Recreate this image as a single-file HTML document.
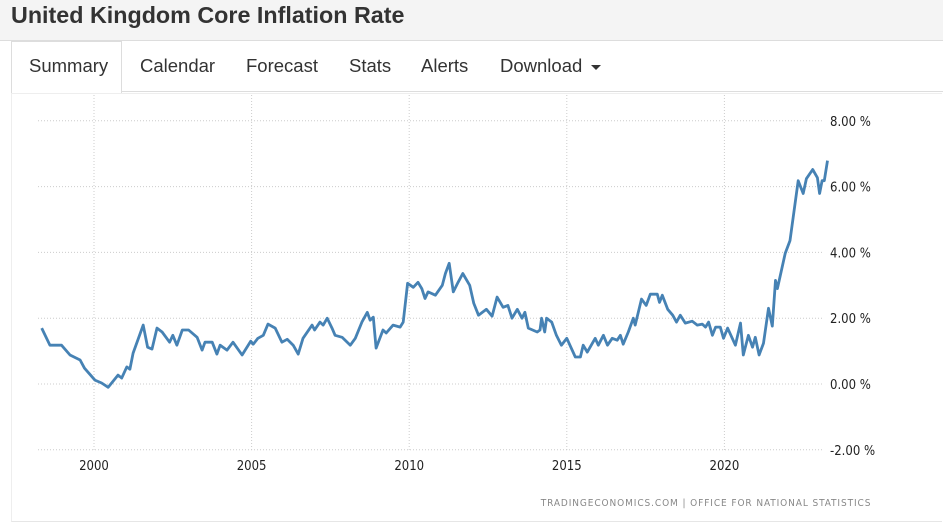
<!DOCTYPE html>
<html><head><meta charset="utf-8"><style>
body{margin:0;width:943px;height:528px;overflow:hidden;background:#fff;font-family:"Liberation Sans",sans-serif;position:relative}
#hdr{position:absolute;left:0;top:0;width:943px;height:40px;background:#f4f4f4;border-bottom:1px solid #ddd}
#title{position:absolute;left:11px;top:2px;font-size:23.3px;font-weight:bold;color:#333}
.tab{position:absolute;top:41px;height:50px;line-height:50px;font-size:18.5px;color:#333}
#tabline{position:absolute;left:121px;top:91px;width:822px;height:1px;background:#ddd}
#active{position:absolute;left:11px;top:41px;width:109px;height:51px;border:1px solid #ddd;border-bottom:none;background:#fff}
#panel{position:absolute;left:11px;top:93px;width:930px;height:427px;border-left:1px solid #eee;border-bottom:1px solid #e6e6e6;border-top:1px solid #eee}
</style></head><body>
<div id="hdr"><div id="title">United Kingdom Core Inflation Rate</div></div>
<div id="active"></div>
<div id="tabline"></div>
<div class="tab" style="left:29px">Summary</div>
<div class="tab" style="left:140px">Calendar</div>
<div class="tab" style="left:246px">Forecast</div>
<div class="tab" style="left:349px">Stats</div>
<div class="tab" style="left:421px">Alerts</div>
<div class="tab" style="left:500px">Download <span style="display:inline-block;width:0;height:0;border-left:5px solid transparent;border-right:5px solid transparent;border-top:5px solid #333;vertical-align:middle;margin-left:4px"></span></div>
<div id="panel"></div>
<svg id="chart" width="943" height="528" style="position:absolute;left:0;top:0"></svg>
<script>
const years=[1998.34,1998.6,1998.97,1999.24,1999.56,1999.7,2000.03,2000.24,2000.45,2000.76,2000.88,2001.04,2001.14,2001.24,2001.56,2001.7,2001.84,2002.0,2002.16,2002.4,2002.5,2002.63,2002.8,2003.0,2003.27,2003.43,2003.52,2003.75,2003.9,2004.0,2004.22,2004.41,2004.7,2004.97,2005.05,2005.2,2005.37,2005.52,2005.75,2005.96,2006.13,2006.32,2006.48,2006.63,2006.92,2007.0,2007.17,2007.27,2007.4,2007.55,2007.65,2007.87,2008.13,2008.29,2008.5,2008.67,2008.76,2008.86,2008.95,2009.17,2009.27,2009.49,2009.71,2009.81,2009.95,2010.13,2010.28,2010.4,2010.5,2010.6,2010.83,2011.05,2011.15,2011.27,2011.4,2011.55,2011.7,2011.92,2012.05,2012.2,2012.45,2012.63,2012.79,2012.98,2013.13,2013.26,2013.43,2013.58,2013.67,2013.78,2014.06,2014.15,2014.2,2014.3,2014.36,2014.52,2014.67,2014.83,2015.0,2015.27,2015.43,2015.52,2015.65,2015.9,2016.0,2016.16,2016.29,2016.44,2016.6,2016.7,2016.79,2016.95,2017.11,2017.17,2017.37,2017.52,2017.65,2017.87,2017.94,2018.03,2018.2,2018.36,2018.48,2018.6,2018.76,2018.98,2019.14,2019.3,2019.4,2019.5,2019.62,2019.72,2019.87,2019.97,2020.1,2020.35,2020.51,2020.6,2020.76,2020.89,2020.98,2021.1,2021.24,2021.4,2021.52,2021.62,2021.68,2021.93,2022.08,2022.34,2022.5,2022.6,2022.8,2022.95,2023.02,2023.1,2023.17,2023.27];
const values=[1.7,1.18,1.18,0.88,0.73,0.48,0.12,0.03,-0.1,0.27,0.18,0.52,0.45,0.94,1.79,1.12,1.06,1.7,1.58,1.27,1.48,1.18,1.64,1.64,1.42,1.03,1.27,1.27,0.91,1.18,1.03,1.27,0.88,1.3,1.21,1.39,1.48,1.82,1.7,1.27,1.36,1.18,0.91,1.39,1.79,1.64,1.88,1.79,2.0,1.7,1.48,1.42,1.18,1.39,1.88,2.18,1.94,2.03,1.09,1.64,1.55,1.79,1.73,1.88,3.06,2.94,3.09,2.9,2.6,2.8,2.7,3.0,3.36,3.67,2.8,3.09,3.36,3.0,2.45,2.09,2.27,2.06,2.64,2.33,2.39,2.0,2.27,2.0,2.18,1.7,1.58,1.64,2.0,1.58,2.0,1.88,1.48,1.18,1.39,0.82,0.82,1.18,0.97,1.39,1.18,1.48,1.18,1.39,1.33,1.48,1.21,1.58,2.0,1.79,2.58,2.39,2.73,2.73,2.48,2.7,2.27,2.09,1.88,2.09,1.85,1.91,1.79,1.82,1.73,1.88,1.48,1.73,1.73,1.39,1.7,1.18,1.85,0.88,1.48,1.12,1.42,0.88,1.24,2.3,1.76,3.15,2.9,3.97,4.36,6.18,5.79,6.24,6.52,6.27,5.79,6.18,6.18,6.79];
const yTicks=[8,6,4,2,0,-2];
const xTicks=[2000,2005,2010,2015,2020];
const svg=document.getElementById('chart');const NS='http://www.w3.org/2000/svg';
const X=y=>94+(y-2000)*31.52;
const Y=v=>384-v*32.9;
function mk(t,a){const e=document.createElementNS(NS,t);for(const k in a)e.setAttribute(k,a[k]);svg.appendChild(e);return e;}
yTicks.forEach(v=>{
 const l=mk('line',{x1:38,x2:823,y1:Y(v),y2:Y(v),stroke:'#ccc','stroke-dasharray':'1,2'});
 
 
 const t=mk('text',{x:830,y:Y(v)+5,'font-size':'13','fill':'#222','font-family':'DejaVu Sans Condensed,Liberation Sans,sans-serif'});
 t.textContent=v.toFixed(2)+' %';
 
 
});
xTicks.forEach(y=>{
 const l=mk('line',{x1:X(y),x2:X(y),y1:95,y2:452,stroke:'#ccc','stroke-dasharray':'1,2'});
 
 
 const t=mk('text',{x:X(y),y:470,'font-size':'13','fill':'#222','text-anchor':'middle','font-family':'DejaVu Sans Condensed,Liberation Sans,sans-serif'});
 t.textContent=y;
 
 
});
const d=years.map((y,i)=>(i?'L':'M')+X(y).toFixed(1)+','+Y(values[i]).toFixed(1)).join('');
const p=mk('path',{d:d,fill:'none',stroke:'#4682b4','stroke-width':'2.8','stroke-linejoin':'round'});


const s=mk('text',{x:706,y:506,'font-size':'10','fill':'#888','text-anchor':'middle','letter-spacing':'0.9','font-family':'DejaVu Sans Condensed,Liberation Sans,sans-serif'});
s.textContent='TRADINGECONOMICS.COM  |  OFFICE FOR NATIONAL STATISTICS';


</script>
</body></html>
